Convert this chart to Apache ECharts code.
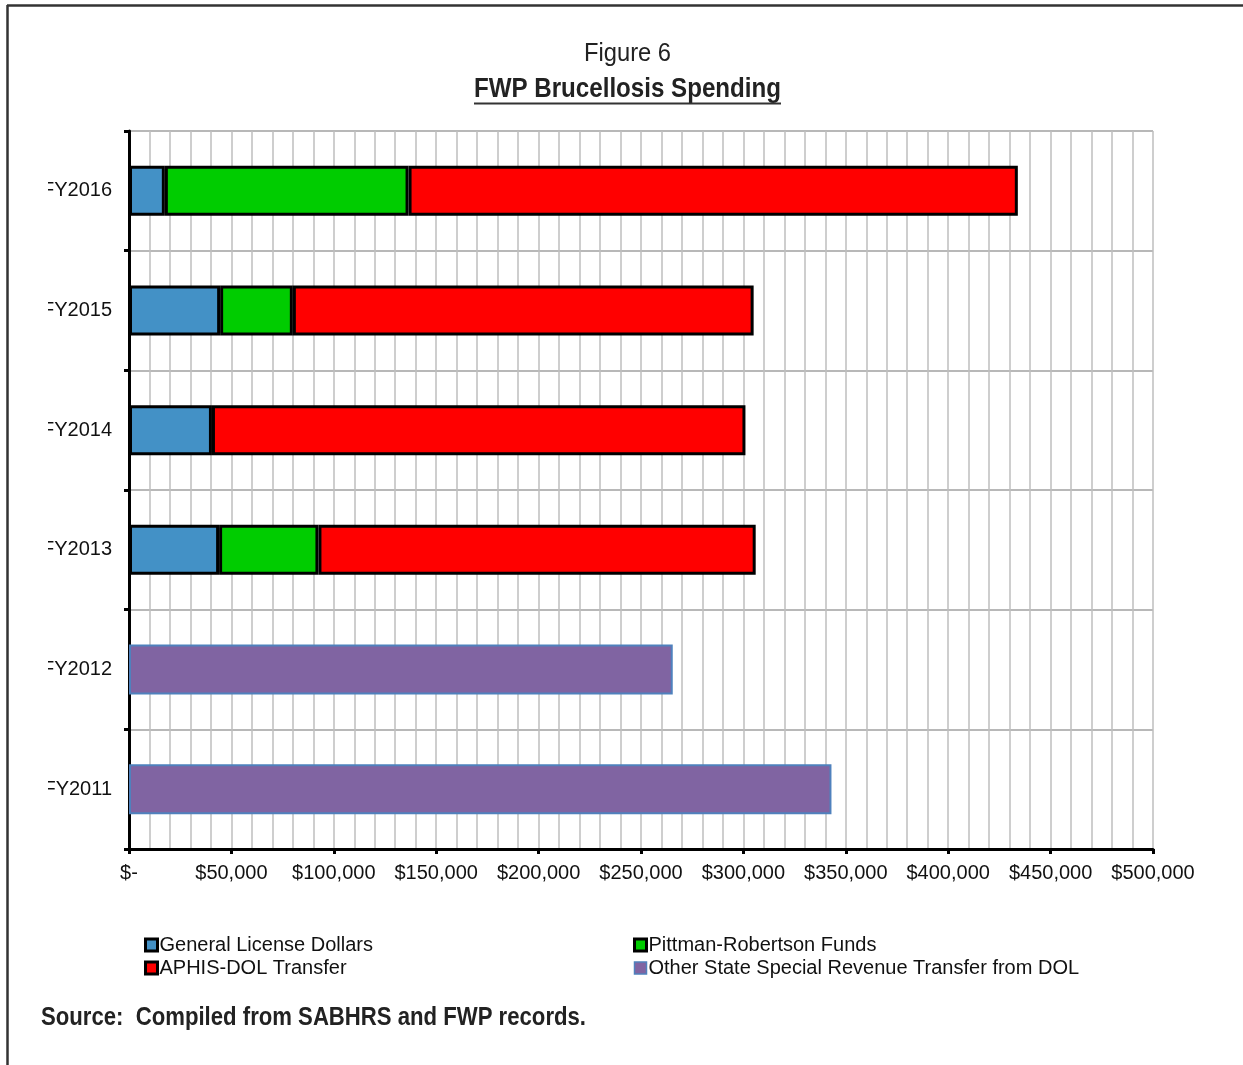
<!DOCTYPE html>
<html>
<head>
<meta charset="utf-8">
<script src="https://cdn.jsdelivr.net/npm/echarts@6/dist/echarts.min.js"></script>
<style>
html,body{margin:0;padding:0;background:#fff;}
#c{width:1243px;height:1065px;}
</style>
</head>
<body>
<div id="c"></div>
<script>
// Data (bottom to top on the category axis)
var categories = ['FY2011', 'FY2012', 'FY2013', 'FY2014', 'FY2015', 'FY2016'];
var generalLicense = [null, null, 44000, 40500, 44500, 17500];
var pittmanRobertson = [null, null, 48500, null, 35500, 119000];
var aphisDol = [null, null, 213500, 260500, 225000, 297500];
var otherStateDol = [343000, 265500, null, null, null, null];
var xTicks = [0, 50000, 100000, 150000, 200000, 250000, 300000, 350000, 400000, 450000, 500000];

var FONT = '"Liberation Sans", Arial, sans-serif';

function fmt(v) {
  if (v === 0) return '$-';
  return '$' + v.toLocaleString('en-US');
}

// measure helper for condensed (scaled) text
var mc = document.createElement('canvas').getContext('2d');
function scaleFor(text, font, target) {
  mc.font = font;
  return target / mc.measureText(text).width;
}

var chart = echarts.init(document.getElementById('c'), null, {renderer: 'canvas'});

function barSeries(name, data, color, border, bw) {
  return {
    name: name,
    type: 'bar',
    stack: 'total',
    data: data,
    barWidth: 50,
    itemStyle: {color: color, borderColor: border, borderWidth: bw},
    emphasis: {disabled: true},
    animation: false
  };
}

function narrowText(text, x, y, size, weight, target, align) {
  var font = weight + ' ' + size + 'px "Liberation Sans"';
  var s = scaleFor(text, font, target);
  return {
    type: 'text', z: 100, silent: true,
    x: x, y: y, scaleX: s, scaleY: 1,
    style: {text: text, x: 0, y: 0, textAlign: align, textVerticalAlign: 'middle',
            fontSize: size, fontWeight: weight, fontFamily: FONT, fill: '#222'}
  };
}

var legendText = {fontSize: 20, fontFamily: FONT, color: '#111', padding: [0, 0, 0, -3]};
var blackBox = {borderColor: '#000', borderWidth: 3};

var option = {
  animation: false,
  backgroundColor: '#fff',
  grid: {left: 129, right: 90, top: 131, bottom: 216, containLabel: false},
  xAxis: {
    type: 'value',
    min: xTicks[0],
    max: xTicks[xTicks.length - 1],
    interval: xTicks[1] - xTicks[0],
    axisLine: {show: true, onZero: false, lineStyle: {color: '#000', width: 3}},
    axisTick: {show: true, length: 5, lineStyle: {color: '#000', width: 3}},
    axisLabel: {formatter: fmt, color: '#111', fontSize: 20, fontFamily: FONT, margin: 14},
    splitLine: {show: true, lineStyle: {color: '#bebebe', width: 1.5}},
    minorTick: {show: false, splitNumber: 5},
    minorSplitLine: {show: true, lineStyle: {color: '#bebebe', width: 1.5}}
  },
  yAxis: {
    type: 'category',
    data: categories,
    axisLine: {show: true, lineStyle: {color: '#000', width: 3}},
    axisTick: {show: true, length: 5, lineStyle: {color: '#000', width: 3}},
    axisLabel: {color: '#111', fontSize: 20, fontFamily: FONT, margin: 17, padding: [4, 0, 0, 0]},
    splitLine: {show: true, lineStyle: {color: '#a0a0a0', width: 1.5}}
  },
  legend: [
    {
      data: [
        {name: 'General License Dollars', itemStyle: blackBox},
        {name: 'APHIS-DOL Transfer', itemStyle: blackBox}
      ],
      orient: 'vertical', left: 139, top: 930, itemGap: 3,
      itemWidth: 12, itemHeight: 12, icon: 'rect', selectedMode: false,
      textStyle: legendText
    },
    {
      data: [
        {name: 'Pittman-Robertson Funds', itemStyle: blackBox},
        {name: 'Other State Special Revenue Transfer from DOL', itemStyle: {borderColor: '#4f81bd', borderWidth: 1.5}}
      ],
      orient: 'vertical', left: 628, top: 930, itemGap: 3,
      itemWidth: 12, itemHeight: 12, icon: 'rect', selectedMode: false,
      textStyle: legendText
    }
  ],
  series: [
    barSeries('General License Dollars', generalLicense, '#4391c6', '#000', 3),
    barSeries('Pittman-Robertson Funds', pittmanRobertson, '#00cc00', '#000', 3),
    barSeries('APHIS-DOL Transfer', aphisDol, '#ff0000', '#000', 3),
    barSeries('Other State Special Revenue Transfer from DOL', otherStateDol, '#8064a2', '#4f81bd', 2)
  ],
  graphic: [
    // left clipping of category labels (as in original)
    {type: 'rect', z: 100, silent: true, shape: {x: 9, y: 150, width: 39, height: 670}, style: {fill: '#fff'}},
    // frame
    {type: 'line', z: 100, silent: true, shape: {x1: 7, y1: 5.5, x2: 1243, y2: 5.5}, style: {stroke: '#333', lineWidth: 2.5}},
    {type: 'line', z: 100, silent: true, shape: {x1: 7.5, y1: 5, x2: 7.5, y2: 1065}, style: {stroke: '#333', lineWidth: 2.5}},
    // titles
    narrowText('Figure 6', 627.5, 54, 26, 'normal', 87, 'center'),
    narrowText('FWP Brucellosis Spending', 627.5, 90, 27, 'bold', 307, 'center'),
    {type: 'line', z: 100, silent: true, shape: {x1: 474, y1: 103.5, x2: 781, y2: 103.5}, style: {stroke: '#333', lineWidth: 2}},
    // source
    narrowText('Source:  Compiled from SABHRS and FWP records.', 41, 1018, 25, 'bold', 545, 'left')
  ]
};
chart.setOption(option);
</script>
</body>
</html>
